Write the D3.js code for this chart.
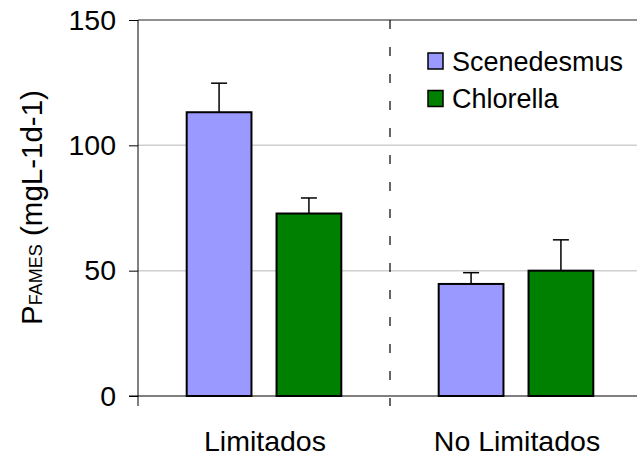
<!DOCTYPE html>
<html>
<head>
<meta charset="utf-8">
<script src="https://cdn.jsdelivr.net/npm/d3@7"></script>
<style>
  body { margin: 0; background: #fff; }
  svg { display: block; font-family: "Liberation Sans", Arial, sans-serif; }
</style>
</head>
<body>
<svg id="chart" width="637" height="456"></svg>
<script>
const categories = ["Limitados", "No Limitados"];
const seriesNames = ["Scenedesmus", "Chlorella"];
const scenedesmusValues = [113.2, 44.7];
const chlorellaValues = [72.8, 50.0];
const scenedesmusErrors = [11.6, 4.5];
const chlorellaErrors = [6.2, 12.3];
const yTicks = [0, 50, 100, 150];
const colors = ["#9999FF", "#008000"];

(function () {
const svg = d3.select("#chart");
const mLeft = 138, mRight = 642, mTop = 20, mBottom = 396;

const x0 = d3.scaleBand().domain(categories).range([mLeft, mRight]).padding(0);
const x1 = d3.scaleBand().domain(seriesNames).range([0, x0.bandwidth()])
  .paddingInner(0.279).paddingOuter(0.542);
const y = d3.scaleLinear().domain([0, 150]).range([mBottom, mTop]);

const data = categories.map((c, i) => ({
  cat: c,
  vals: [
    {s: seriesNames[0], v: scenedesmusValues[i], e: scenedesmusErrors[i], c: colors[0]},
    {s: seriesNames[1], v: chlorellaValues[i], e: chlorellaErrors[i], c: colors[1]}
  ]
}));

// gridlines
svg.append("g").selectAll("line").data(yTicks.filter(t => t > 0 && t < 150)).join("line")
  .attr("x1", mLeft).attr("x2", 637).attr("y1", d => y(d)).attr("y2", d => y(d))
  .attr("stroke", "#cfcfcf").attr("stroke-width", 1.5);
// top line
svg.append("line").attr("x1", mLeft).attr("x2", 637).attr("y1", y(150)).attr("y2", y(150))
  .attr("stroke", "#222").attr("stroke-width", 1);

// divider dashed
svg.append("line").attr("x1", x0("No Limitados")).attr("x2", x0("No Limitados"))
  .attr("y1", mTop).attr("y2", mBottom + 10)
  .attr("stroke", "#000").attr("stroke-width", 1.2).attr("stroke-dasharray", "9,18");

// y axis
const yAxis = d3.axisLeft(y).tickValues(yTicks).tickSize(9).tickPadding(13);
const yg = svg.append("g").attr("transform", `translate(${mLeft},0)`).call(yAxis);
yg.select(".domain").remove();
yg.selectAll(".tick line").attr("stroke", "#000");
yg.selectAll("text").attr("font-size", 28.5).attr("fill", "#000")
  .attr("font-family", "Liberation Sans, Arial, sans-serif");
svg.append("line").attr("x1", mLeft).attr("x2", mLeft).attr("y1", mTop).attr("y2", mBottom + 10)
  .attr("stroke", "#000").attr("stroke-width", 1);

// x axis line
svg.append("line").attr("x1", mLeft - 9).attr("x2", 637).attr("y1", mBottom).attr("y2", mBottom)
  .attr("stroke", "#000").attr("stroke-width", 1.2);

// x labels
svg.append("g").selectAll("text").data(categories).join("text")
  .attr("x", d => x0(d) + x0.bandwidth() / 2 + 1).attr("y", 451)
  .attr("text-anchor", "middle").attr("font-size", 28.5).attr("fill", "#000")
  .text(d => d);

// bars
const groups = svg.append("g").selectAll("g").data(data).join("g")
  .attr("transform", d => `translate(${x0(d.cat)},0)`);
groups.selectAll("rect").data(d => d.vals).join("rect")
  .attr("x", d => x1(d.s)).attr("width", x1.bandwidth())
  .attr("y", d => y(d.v)).attr("height", d => y(0) - y(d.v))
  .attr("fill", d => d.c).attr("stroke", "#000").attr("stroke-width", 2);

// error bars
groups.selectAll("line.err").data(d => d.vals).join("line").attr("class", "err")
  .attr("x1", d => x1(d.s) + x1.bandwidth() / 2).attr("x2", d => x1(d.s) + x1.bandwidth() / 2)
  .attr("y1", d => y(d.v)).attr("y2", d => y(d.v + d.e))
  .attr("stroke", "#000").attr("stroke-width", 1.5);
groups.selectAll("line.cap").data(d => d.vals).join("line").attr("class", "cap")
  .attr("x1", d => x1(d.s) + x1.bandwidth() / 2 - 8).attr("x2", d => x1(d.s) + x1.bandwidth() / 2 + 8)
  .attr("y1", d => y(d.v + d.e)).attr("y2", d => y(d.v + d.e))
  .attr("stroke", "#000").attr("stroke-width", 1.5);

// legend
const lg = svg.append("g").attr("transform", "translate(428,53)");
const items = lg.selectAll("g").data(seriesNames).join("g")
  .attr("transform", (d, i) => `translate(0,${i * 37.5})`);
items.append("rect").attr("x", 0).attr("y", 0).attr("width", 15).attr("height", 16)
  .attr("fill", (d, i) => colors[i]).attr("stroke", "#000").attr("stroke-width", 1.5);
items.append("text").attr("x", 24).attr("y", 17.5).attr("font-size", 27).attr("fill", "#000")
  .text(d => d);

// y title
const yt = svg.append("text").attr("transform", "translate(42,207.5) rotate(-90)")
  .attr("text-anchor", "middle").attr("fill", "#000");
yt.append("tspan").attr("font-size", 29.5).text("P");
yt.append("tspan").attr("font-size", 18).text("FAMES");
yt.append("tspan").attr("font-size", 29.5).text(" (mgL-1d-1)");
})();
</script>
</body>
</html>
